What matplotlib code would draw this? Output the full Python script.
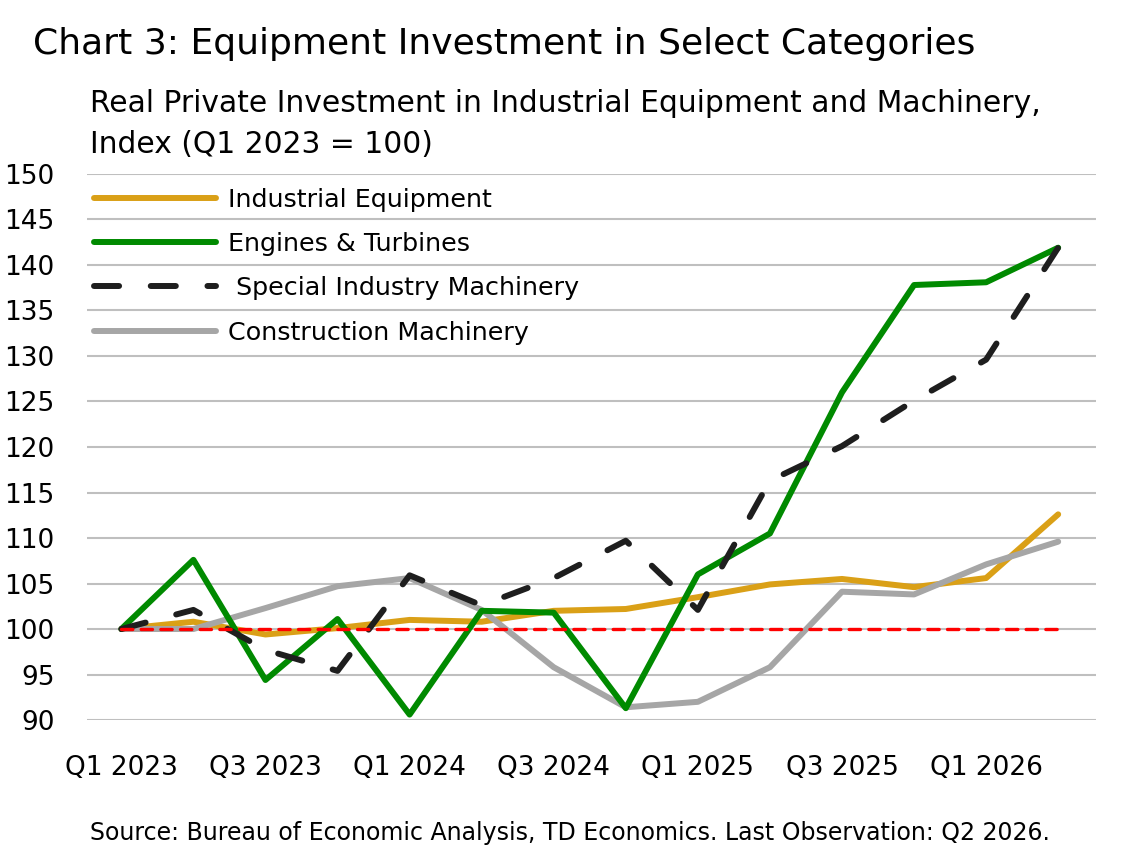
import numpy as np
import matplotlib
matplotlib.use('Agg')
import matplotlib.pyplot as plt

plt.rcParams['font.family'] = ['DejaVu Sans']

quarters = ['Q1 2023', 'Q2 2023', 'Q3 2023', 'Q4 2023',
            'Q1 2024', 'Q2 2024', 'Q3 2024', 'Q4 2024',
            'Q1 2025', 'Q2 2025', 'Q3 2025', 'Q4 2025',
            'Q1 2026', 'Q2 2026']

industrial_equipment = [100.0, 100.8, 99.4, 100.1, 101.0, 100.8, 102.0, 102.2,
                        103.5, 104.9, 105.5, 104.6, 105.6, 112.6]
engines_turbines = [100.0, 107.6, 94.4, 101.1, 90.6, 102.0, 101.8, 91.3,
                    106.0, 110.5, 126.0, 137.8, 138.1, 141.9]
special_machinery = [100.0, 102.1, 97.7, 95.4, 105.9, 102.6, 105.6, 109.7,
                     102.1, 116.3, 120.1, 125.1, 129.6, 141.9]
construction_machinery = [100.0, 100.0, 102.3, 104.7, 105.6, 102.1, 95.8, 91.4,
                          92.0, 95.8, 104.1, 103.8, 107.1, 109.6]
baseline = [100.0] * len(quarters)

x = np.arange(len(quarters))

fig = plt.figure(figsize=(11.4, 8.52), dpi=100)
ax = fig.add_axes([0.0761, 0.1549, 0.885, 0.6409])

lw = 4.3
ax.plot(x, industrial_equipment, color='#DAA017', lw=lw,
        solid_capstyle='round', label='Industrial Equipment', zorder=3)
ax.plot(x, engines_turbines, color='#008A00', lw=lw,
        solid_capstyle='round', label='Engines & Turbines', zorder=4)
ax.plot(x, special_machinery, color='#1E1E1E', lw=lw, linestyle=(0, (4.2, 5.3)),
        dash_capstyle='round', label=' Special Industry Machinery', zorder=5)
ax.plot(x, construction_machinery, color='#A6A6A6', lw=lw,
        solid_capstyle='round', label='Construction Machinery', zorder=3)
ax.plot(x, baseline, color='#FF0000', lw=2.4, linestyle=(0, (3.4, 2.5)),
        dash_capstyle='round', zorder=6, label='_nolegend_')

ax.set_xlim(-0.48, 13.52)
ax.set_ylim(90, 150)
ax.set_yticks(np.arange(90, 151, 5))
ax.set_xticks(x[::2])
ax.set_xticklabels(quarters[::2])
ax.tick_params(axis='both', length=0, labelsize=19)
ax.tick_params(axis='x', pad=25)
ax.tick_params(axis='y', pad=23)
ax.grid(axis='y', color='#BFBFBF', lw=1.5)
ax.set_axisbelow(True)
for s in ax.spines.values():
    s.set_visible(False)

ax.legend(loc='upper left', bbox_to_anchor=(0.0, 0.989), frameon=False,
          fontsize=18.3, handlelength=4.8, handletextpad=0.47, labelspacing=0.8,
          borderaxespad=0.2, borderpad=0.1)

fig.text(0.029, 0.948, 'Chart 3: Equipment Investment in Select Categories',
         fontsize=26, va='center', ha='left')
fig.text(0.079, 0.879, 'Real Private Investment in Industrial Equipment and Machinery,',
         fontsize=21.4, va='center', ha='left')
fig.text(0.079, 0.830, 'Index (Q1 2023 = 100)',
         fontsize=21.4, va='center', ha='left')
fig.text(0.5, 0.022, 'Source: Bureau of Economic Analysis, TD Economics. Last Observation: Q2 2026.',
         fontsize=17, va='center', ha='center')

fig.savefig('out.png', dpi=100)
